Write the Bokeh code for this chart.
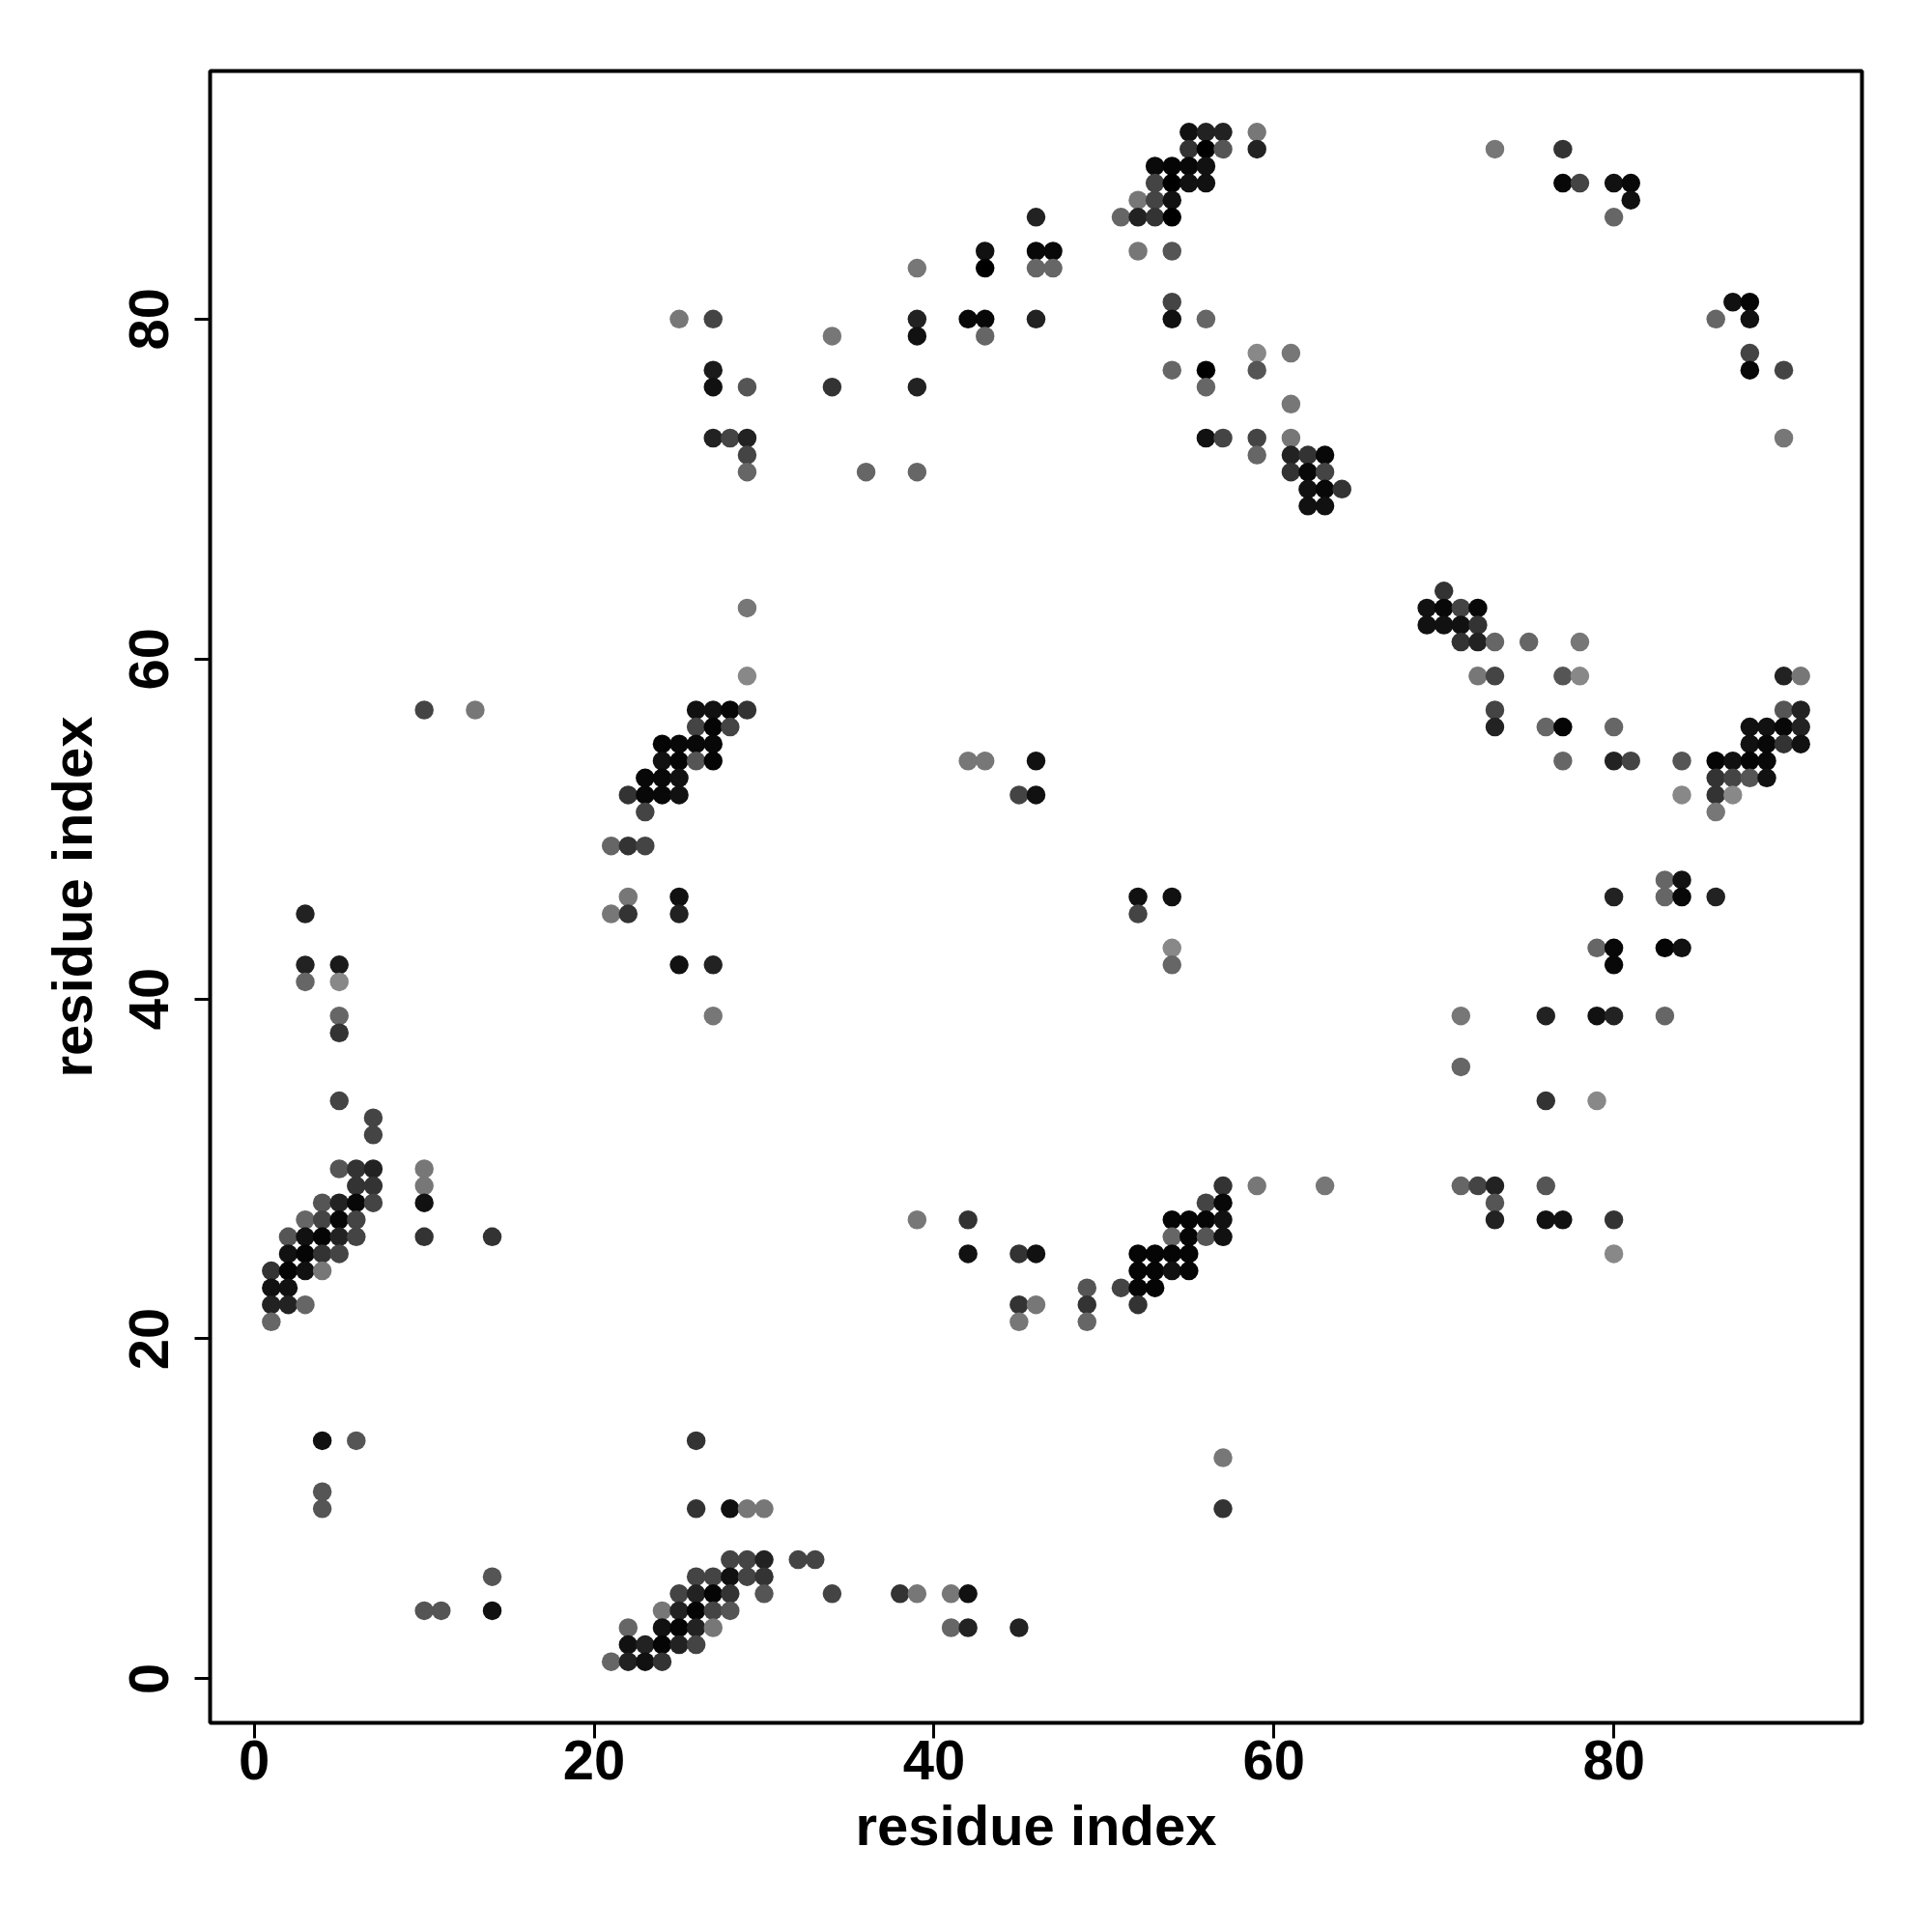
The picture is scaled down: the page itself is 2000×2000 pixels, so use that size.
from bokeh.plotting import figure
from bokeh.models import Range1d, FixedTicker, ColumnDataSource
from bokeh.embed import file_html
from bokeh.resources import INLINE

# contact rows: residue index on y, residue indices on x, grey level (0=black) per contact
row_y = [91, 90, 89, 88, 87, 86, 84, 83, 81, 80, 79, 78, 77, 76, 75, 73, 72, 71, 70, 69,
         64, 63, 62, 61, 59, 57, 56, 55, 54, 53, 52, 51, 49, 47, 46, 45, 43, 42, 41, 39,
         38, 36, 34, 33, 32, 30, 29, 28, 27, 26, 25, 24, 23, 22, 21, 14, 13, 11, 10, 7,
         6, 5, 4, 3, 2, 1]

row_x = [
    [55, 56, 57, 59],
    [55, 56, 57, 59, 73, 77],
    [53, 54, 55, 56],
    [53, 54, 55, 56, 77, 78, 80, 81],
    [52, 53, 54, 81],
    [46, 51, 52, 53, 54, 80],
    [43, 46, 47, 52, 54],
    [39, 43, 46, 47],
    [54, 87, 88],
    [25, 27, 39, 42, 43, 46, 54, 56, 86, 88],
    [34, 39, 43],
    [59, 61, 88],
    [27, 54, 56, 59, 88, 90],
    [27, 29, 34, 39, 56],
    [61],
    [27, 28, 29, 56, 57, 59, 61, 90],
    [29, 59, 61, 62, 63],
    [29, 36, 39, 61, 62, 63],
    [62, 63, 64],
    [62, 63],
    [70],
    [29, 69, 70, 71, 72],
    [69, 70, 71, 72],
    [71, 72, 73, 75, 78],
    [29, 72, 73, 77, 78, 90, 91],
    [10, 13, 26, 27, 28, 29, 73, 90, 91],
    [26, 27, 28, 73, 76, 77, 80, 88, 89, 90, 91],
    [24, 25, 26, 27, 88, 89, 90, 91],
    [24, 25, 26, 27, 42, 43, 46, 77, 80, 81, 84, 86, 87, 88, 89],
    [23, 24, 25, 86, 87, 88, 89],
    [22, 23, 24, 25, 45, 46, 84, 86, 87],
    [23, 86],
    [21, 22, 23],
    [83, 84],
    [22, 25, 52, 54, 80, 83, 84, 86],
    [3, 21, 22, 25, 52],
    [54, 79, 80, 83, 84],
    [3, 5, 25, 27, 54, 80],
    [3, 5],
    [5, 27, 71, 76, 79, 80, 83],
    [5],
    [71],
    [5, 76, 79],
    [7],
    [7],
    [5, 6, 7, 10],
    [6, 7, 10, 57, 59, 63, 71, 72, 73, 76],
    [4, 5, 6, 7, 10, 56, 57, 73],
    [3, 4, 5, 6, 39, 42, 54, 55, 56, 57, 73, 76, 77, 80],
    [2, 3, 4, 5, 6, 10, 14, 54, 55, 56, 57],
    [2, 3, 4, 5, 42, 45, 46, 52, 53, 54, 55, 80],
    [1, 2, 3, 4, 52, 53, 54, 55],
    [1, 2, 49, 51, 52, 53],
    [1, 2, 3, 45, 46, 49, 52],
    [1, 45, 49],
    [4, 6, 26],
    [57],
    [4],
    [4, 26, 28, 29, 30, 57],
    [28, 29, 30, 32, 33],
    [14, 26, 27, 28, 29, 30],
    [25, 26, 27, 28, 30, 34, 38, 39, 41, 42],
    [10, 11, 14, 24, 25, 26, 27, 28],
    [22, 24, 25, 26, 27, 41, 42, 45],
    [22, 23, 24, 25, 26],
    [21, 22, 23, 24],
]

row_shade = [
    [0x11, 0x22, 0x22, 0x77],
    [0x33, 0x00, 0x55, 0x22, 0x77, 0x33],
    [0x0a, 0x05, 0x08, 0x11],
    [0x44, 0x00, 0x11, 0x11, 0x08, 0x44, 0x11, 0x08],
    [0x77, 0x44, 0x11, 0x11],
    [0x22, 0x66, 0x22, 0x33, 0x00, 0x66],
    [0x11, 0x08, 0x08, 0x77, 0x55],
    [0x77, 0x00, 0x66, 0x66],
    [0x44, 0x11, 0x05],
    [0x77, 0x44, 0x22, 0x08, 0x08, 0x22, 0x11, 0x66, 0x66, 0x11],
    [0x77, 0x11, 0x66],
    [0x88, 0x77, 0x44],
    [0x1a, 0x66, 0x00, 0x55, 0x08, 0x44],
    [0x11, 0x55, 0x33, 0x22, 0x66],
    [0x77],
    [0x22, 0x44, 0x22, 0x11, 0x44, 0x44, 0x77, 0x77],
    [0x44, 0x66, 0x22, 0x33, 0x08],
    [0x66, 0x66, 0x66, 0x33, 0x08, 0x44],
    [0x11, 0x08, 0x33],
    [0x11, 0x11],
    [0x33],
    [0x77, 0x11, 0x08, 0x44, 0x08],
    [0x11, 0x11, 0x11, 0x33],
    [0x33, 0x22, 0x66, 0x66, 0x77],
    [0x88, 0x77, 0x44, 0x55, 0x88, 0x22, 0x77],
    [0x44, 0x77, 0x11, 0x11, 0x08, 0x33, 0x44, 0x55, 0x22],
    [0x44, 0x05, 0x44, 0x22, 0x66, 0x05, 0x66, 0x11, 0x11, 0x08, 0x22],
    [0x05, 0x08, 0x08, 0x08, 0x11, 0x08, 0x33, 0x11],
    [0x11, 0x05, 0x55, 0x05, 0x77, 0x77, 0x11, 0x66, 0x22, 0x44, 0x55, 0x05, 0x11, 0x05, 0x08],
    [0x08, 0x08, 0x11, 0x33, 0x44, 0x55, 0x11],
    [0x33, 0x08, 0x08, 0x11, 0x44, 0x11, 0x88, 0x33, 0x88],
    [0x44, 0x77],
    [0x66, 0x33, 0x44],
    [0x66, 0x11],
    [0x77, 0x11, 0x11, 0x11, 0x22, 0x66, 0x08, 0x22],
    [0x22, 0x77, 0x33, 0x22, 0x44],
    [0x88, 0x66, 0x08, 0x05, 0x11],
    [0x22, 0x1a, 0x11, 0x22, 0x66, 0x08],
    [0x66, 0x88],
    [0x66, 0x77, 0x77, 0x22, 0x11, 0x22, 0x66],
    [0x33],
    [0x66],
    [0x44, 0x33, 0x88],
    [0x44],
    [0x44],
    [0x55, 0x33, 0x22, 0x77],
    [0x33, 0x33, 0x77, 0x33, 0x77, 0x77, 0x66, 0x44, 0x22, 0x55],
    [0x55, 0x22, 0x08, 0x44, 0x11, 0x44, 0x08, 0x55],
    [0x66, 0x44, 0x08, 0x44, 0x77, 0x33, 0x05, 0x05, 0x05, 0x11, 0x22, 0x11, 0x11, 0x33],
    [0x55, 0x11, 0x05, 0x22, 0x44, 0x33, 0x33, 0x66, 0x05, 0x55, 0x11],
    [0x11, 0x05, 0x33, 0x44, 0x11, 0x33, 0x11, 0x05, 0x05, 0x05, 0x05, 0x88],
    [0x33, 0x05, 0x11, 0x77, 0x05, 0x05, 0x11, 0x05],
    [0x11, 0x11, 0x55, 0x44, 0x05, 0x05],
    [0x22, 0x22, 0x66, 0x33, 0x77, 0x33, 0x33],
    [0x66, 0x77, 0x66],
    [0x11, 0x55, 0x33],
    [0x77],
    [0x55],
    [0x55, 0x33, 0x11, 0x77, 0x77, 0x33],
    [0x44, 0x44, 0x22, 0x44, 0x44],
    [0x55, 0x44, 0x44, 0x11, 0x44, 0x33],
    [0x44, 0x22, 0x05, 0x33, 0x55, 0x44, 0x33, 0x77, 0x77, 0x11],
    [0x55, 0x55, 0x11, 0x77, 0x22, 0x05, 0x44, 0x55],
    [0x66, 0x11, 0x05, 0x22, 0x77, 0x66, 0x22, 0x22],
    [0x11, 0x22, 0x05, 0x22, 0x44],
    [0x66, 0x22, 0x11, 0x33],
]

xs, ys, cols = [], [], []
for yv, xr, sr in zip(row_y, row_x, row_shade):
    assert len(xr) == len(sr), (yv, len(xr), len(sr))
    for xv, sv in zip(xr, sr):
        xs.append(xv)
        ys.append(yv)
        cols.append("#%02x%02x%02x" % (sv, sv, sv))

src = ColumnDataSource(dict(x=xs, y=ys, c=cols))

p = figure(width=1984, height=1984, output_backend="svg", toolbar_location=None,
           x_range=Range1d(-2.6, 94.6), y_range=Range1d(-2.6, 94.6),
           min_border_left=217, min_border_right=57, min_border_top=73,
           min_border_bottom=201, background_fill_color="white",
           border_fill_color="white")

p.grid.visible = False
p.outline_line_color = "black"
p.outline_line_width = 4

p.scatter("x", "y", source=src, size=19.5, fill_color="c", line_color=None)

for ax in (p.xaxis, p.yaxis):
    ax.ticker = FixedTicker(ticks=[0, 20, 40, 60, 80])
    ax.axis_line_color = None
    ax.major_tick_line_color = "black"
    ax.major_tick_line_width = 3
    ax.major_tick_out = 16
    ax.major_tick_in = 0
    ax.minor_tick_line_color = None
    ax.major_label_text_font = "Liberation Sans"
    ax.major_label_text_font_style = "bold"
    ax.major_label_text_font_size = "58px"
    ax.major_label_text_color = "black"
    ax.axis_label = "residue index"
    ax.axis_label_text_font = "Liberation Sans"
    ax.axis_label_text_font_style = "bold"
    ax.axis_label_text_font_size = "58px"
    ax.axis_label_text_color = "black"

p.xaxis.major_label_standoff = 2
p.xaxis.axis_label_standoff = 12
p.yaxis.major_label_orientation = "vertical"
p.yaxis.major_label_standoff = 27
p.yaxis.axis_label_standoff = 25

open("out.html", "w").write(file_html(p, INLINE))
